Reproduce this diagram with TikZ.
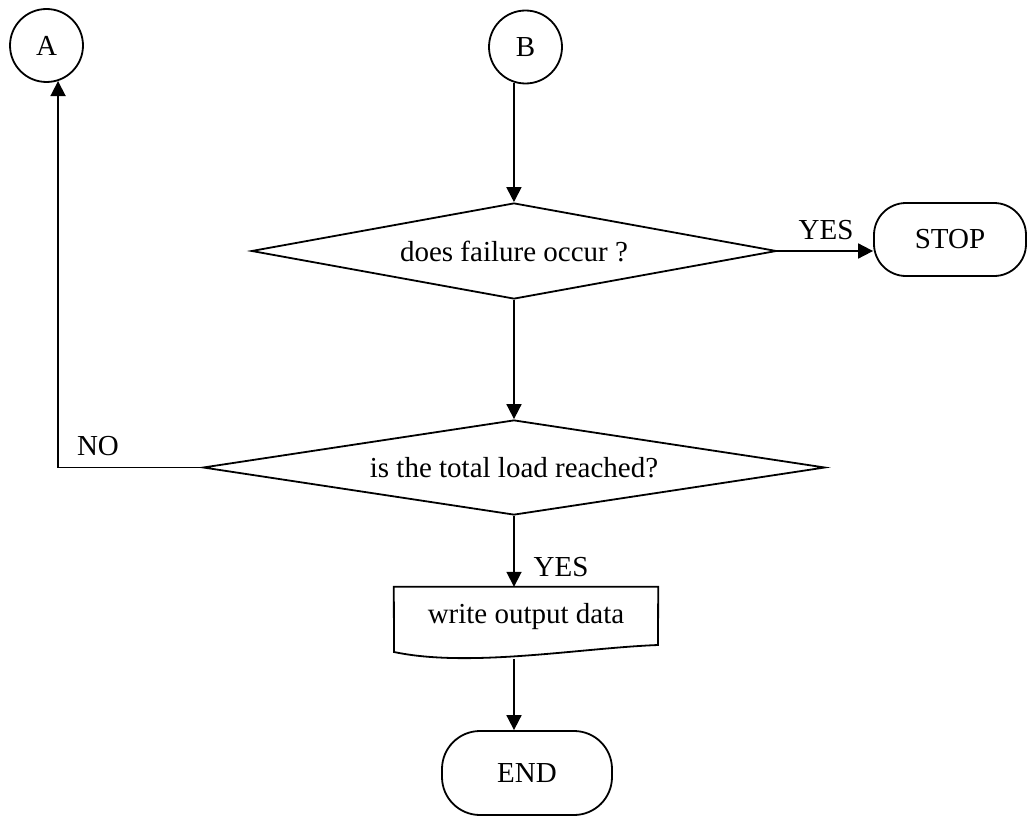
\documentclass[tikz,border=0pt]{standalone}
\usepackage{fontspec}
\setmainfont{Liberation Serif}
\usetikzlibrary{shapes.geometric,arrows.meta}
\begin{document}
\begin{tikzpicture}[x=1pt,y=-1pt,
  every node/.style={font=\fontsize{29}{34}\selectfont},
  ln/.style={line width=1.8pt},
  arr/.style={ln,-{Triangle[length=15pt,width=15pt]}},
  conn/.style={circle,draw,line width=1.8pt,minimum size=73pt,inner sep=0pt},
  dec/.style={diamond,draw,line width=1.8pt,inner sep=0pt,aspect=6},
  term/.style={rectangle,draw,line width=1.8pt,inner sep=0pt},
  lbl/.style={inner sep=0pt}]
\useasboundingbox (0,0) rectangle (1028,816);
\node[conn] (A) at (46.5,45.5) {A};
\node[conn] (B) at (525.5,47) {B};
\node[dec,minimum width=525pt,minimum height=96pt] (d1) at (514,251) {does failure occur ?};
\node[term,rounded corners=32pt,minimum width=152pt,minimum height=73pt] (stop) at (950,239.5) {STOP};
\node[dec,minimum width=622pt,minimum height=95pt] (d2) at (514,467.5) {is the total load reached?};
\node[minimum width=264pt,minimum height=60pt,inner sep=0pt] (doc) at (526,617) {write output data};
\node[term,rounded corners=38pt,minimum width=170pt,minimum height=84pt] (end) at (527,773) {END};
\draw[ln] (doc.north west) -- (doc.north east) -- (658,645) .. controls (580,648) and (470,668) .. (394,652) -- cycle;
\coordinate (docb) at (514,659);
\draw[arr] (B.-108) -- (B.-108 |- d1.north);
\draw[arr] (d1.south) -- (d2.north);
\draw[arr] (d1.east) -- (d1.east -| stop.west);
\draw[arr] (d2.south) -- (d2.south |- doc.north);
\draw[arr] (docb) -- (docb |- end.north);
\draw[arr] (d2.west) -- (d2.west -| A.-72) -- (A.-72);
\node[lbl] (yes1) at (826,230) {YES};
\node[lbl] (no) at (98,446) {NO};
\node[lbl] (yes2) at (561,567) {YES};
\end{tikzpicture}
\end{document}
